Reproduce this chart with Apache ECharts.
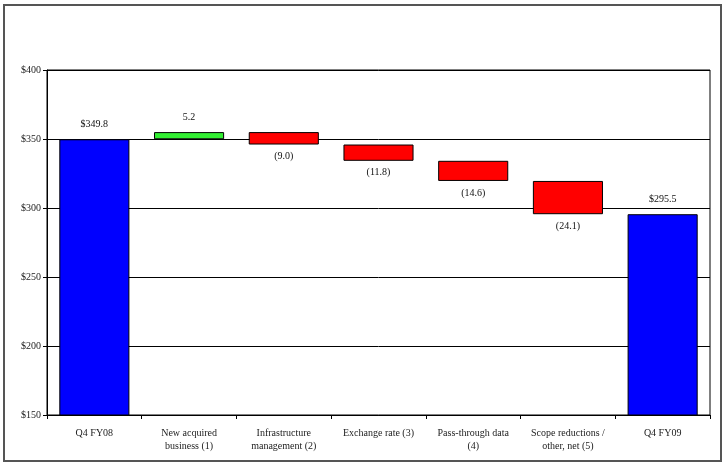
<!DOCTYPE html>
<html>
<head>
<meta charset="utf-8">
<script src="https://cdn.jsdelivr.net/npm/echarts@6/dist/echarts.min.js"></script>
<style>
  html, body { margin: 0; padding: 0; background: #fff; }
  #chart { width: 724px; height: 464px; }
</style>
</head>
<body>
<div id="chart"></div>
<script>
// categories and values
var categories = ['Q4 FY08', 'New acquired\nbusiness (1)', 'Infrastructure\nmanagement (2)', 'Exchange rate (3)', 'Pass-through data\n(4)', 'Scope reductions /\nother, net (5)', 'Q4 FY09'];
var opening = 349.8;
var changes = [5.2, -9.0, -11.8, -14.6, -24.1];
var closing = 295.5;
var yTicks = [150, 200, 250, 300, 350, 400];

// build stacked base + visible part
var base = ['-'];
var height = [opening];
var running = opening;
changes.forEach(function (c) {
  var next = running + c;
  base.push(Math.min(running, next));
  height.push(Math.abs(c));
  running = next;
});
base.push('-');
height.push(closing);

var font = 'Liberation Serif';
var visData = height.map(function (h, i) {
  var color, label;
  if (i === 0 || i === categories.length - 1) {
    color = '#0000ff';
    label = { position: 'top', distance: 10, formatter: '$' + h.toFixed(1) };
  } else {
    var c = changes[i - 1];
    if (c >= 0) {
      color = '#33f033';
      label = { position: 'top', distance: 10, formatter: c.toFixed(1) };
    } else {
      color = '#ff0000';
      label = { position: 'bottom', distance: 7, formatter: '(' + Math.abs(c).toFixed(1) + ')' };
    }
  }
  return { value: h, itemStyle: { color: color }, label: label };
});

var myChart = echarts.init(document.getElementById('chart'));
var option = {
  animation: false,
  graphic: [{
    type: 'rect',
    shape: { x: 4, y: 5, width: 717, height: 456 },
    style: { fill: 'none', stroke: '#555', lineWidth: 2 }
  }],
  grid: {
    left: 47, right: 14, top: 70, bottom: 49,
    show: true, borderColor: '#000', borderWidth: 1
  },
  xAxis: {
    type: 'category',
    data: categories,
    axisLine: { lineStyle: { color: '#000' } },
    axisTick: { show: true, alignWithLabel: false, length: 4, lineStyle: { color: '#000' } },
    axisLabel: { color: '#222', fontFamily: font, fontSize: 10, lineHeight: 13, margin: 12, interval: 0 }
  },
  yAxis: {
    type: 'value',
    min: yTicks[0], max: yTicks[yTicks.length - 1], interval: 50,
    axisLine: { show: true, lineStyle: { color: '#000' } },
    axisTick: { show: true, length: 4, lineStyle: { color: '#000' } },
    axisLabel: { color: '#222', fontFamily: font, fontSize: 10, margin: 6, formatter: '${value}' },
    splitLine: { lineStyle: { color: '#000', width: 1 } }
  },
  series: [
    {
      type: 'bar', stack: 'w', data: base,
      itemStyle: { color: 'transparent' },
      barCategoryGap: '26%', silent: true
    },
    {
      type: 'bar', stack: 'w', data: visData,
      itemStyle: { borderColor: '#000', borderWidth: 1 },
      label: { show: true, color: '#111', fontFamily: font, fontSize: 10 }
    }
  ]
};
myChart.setOption(option);
</script>
</body>
</html>
